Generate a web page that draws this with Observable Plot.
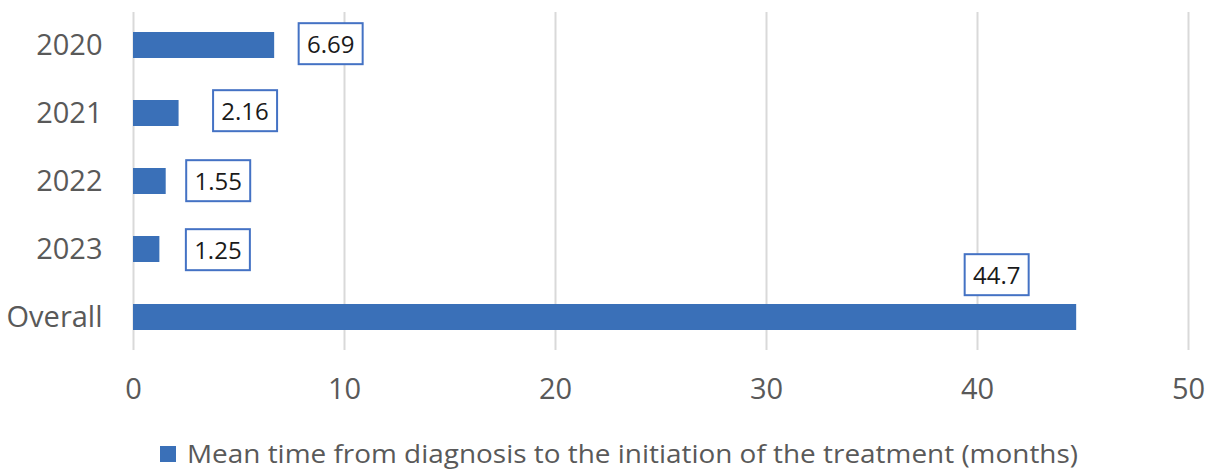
<!DOCTYPE html>
<html>
<head>
<meta charset="utf-8">
<script src="https://cdn.jsdelivr.net/npm/d3@7"></script>
<script src="https://cdn.jsdelivr.net/npm/@observablehq/plot@0.6"></script>
<style>
  html, body { margin: 0; padding: 0; background: #fff; }
  #chart { width: 1214px; height: 471px; overflow: hidden; }
  #chart > svg { display: block; font-family: "Open Sans", sans-serif; }
</style>
</head>
<body>
<div id="chart"></div>
<script>
// ---- data ----
const categories = ["2020", "2021", "2022", "2023", "Overall"];
const values = [6.69, 2.16, 1.55, 1.25, 44.7];
const valueLabels = ["6.69", "2.16", "1.55", "1.25", "44.7"];
const xTicks = [0, 10, 20, 30, 40, 50];
const seriesName = "Mean time from diagnosis to the initiation of the treatment (months)";

// ---- layout (label nudges, pixels) ----
const labelDx = [56, 66, 52, 58, -80];
const labelDy = [0, -1, 1, 2, -41];

const rows = categories.map((c, i) => ({ cat: c, value: values[i], label: valueLabels[i] }));
const barColor = "#3A70B8";

const plot = Plot.plot({
  width: 1214,
  height: 412,
  marginLeft: 133,
  marginRight: 26,
  marginTop: 12,
  marginBottom: 62,
  style: { fontFamily: "Open Sans, sans-serif", background: "#fff" },
  x: { domain: [0, 50], ticks: xTicks, grid: false, label: null },
  y: { domain: categories, paddingInner: 0.62, paddingOuter: 0.295, label: null },
  marks: [
    Plot.ruleX(xTicks, { stroke: "#D9D9D9", strokeWidth: 2 }),
    Plot.barX(rows, { x: "value", y: "cat", fill: barColor }),
    Plot.axisX({ ticks: xTicks, tickSize: 0, tickPadding: 28, fontSize: 29, color: "#595959", label: null }),
    Plot.axisY({ tickSize: 0, tickPadding: 31, fontSize: 29, color: "#595959", label: null }),
    ...rows.map((r, i) => Plot.text([r], {
      x: "value", y: "cat", text: "label",
      dx: labelDx[i], dy: labelDy[i],
      fontSize: 24, fill: "#1a1a1a", textAnchor: "middle"
    }))
  ]
});

document.getElementById("chart").appendChild(plot);

// draw boxes behind value labels
plot.querySelectorAll('g[aria-label="text"] text').forEach(t => {
  const b = t.getBBox();
  const w = 64, h = 41;
  const cx = b.x + b.width / 2, cy = b.y + b.height / 2;
  const rect = document.createElementNS("http://www.w3.org/2000/svg", "rect");
  rect.setAttribute("x", cx - w / 2);
  rect.setAttribute("y", cy - h / 2);
  rect.setAttribute("width", w);
  rect.setAttribute("height", h);
  rect.setAttribute("fill", "#fff");
  rect.setAttribute("stroke", "#4472C4");
  rect.setAttribute("stroke-width", 2);
  const tr = t.getAttribute("transform");
  if (tr) rect.setAttribute("transform", tr);
  t.parentNode.insertBefore(rect, t);
});

// legend below
const legend = d3.select("#chart").append("svg")
  .attr("width", 1214).attr("height", 59)
  .style("display", "block");
legend.append("rect")
  .attr("x", 160).attr("y", 34).attr("width", 16).attr("height", 16)
  .attr("fill", barColor);
legend.append("text")
  .attr("x", 187).attr("y", 41)
  .attr("dominant-baseline", "central")
  .attr("font-size", 25)
  .attr("fill", "#595959")
  .attr("textLength", 891)
  .attr("lengthAdjust", "spacingAndGlyphs")
  .text(seriesName);
</script>
</body>
</html>
